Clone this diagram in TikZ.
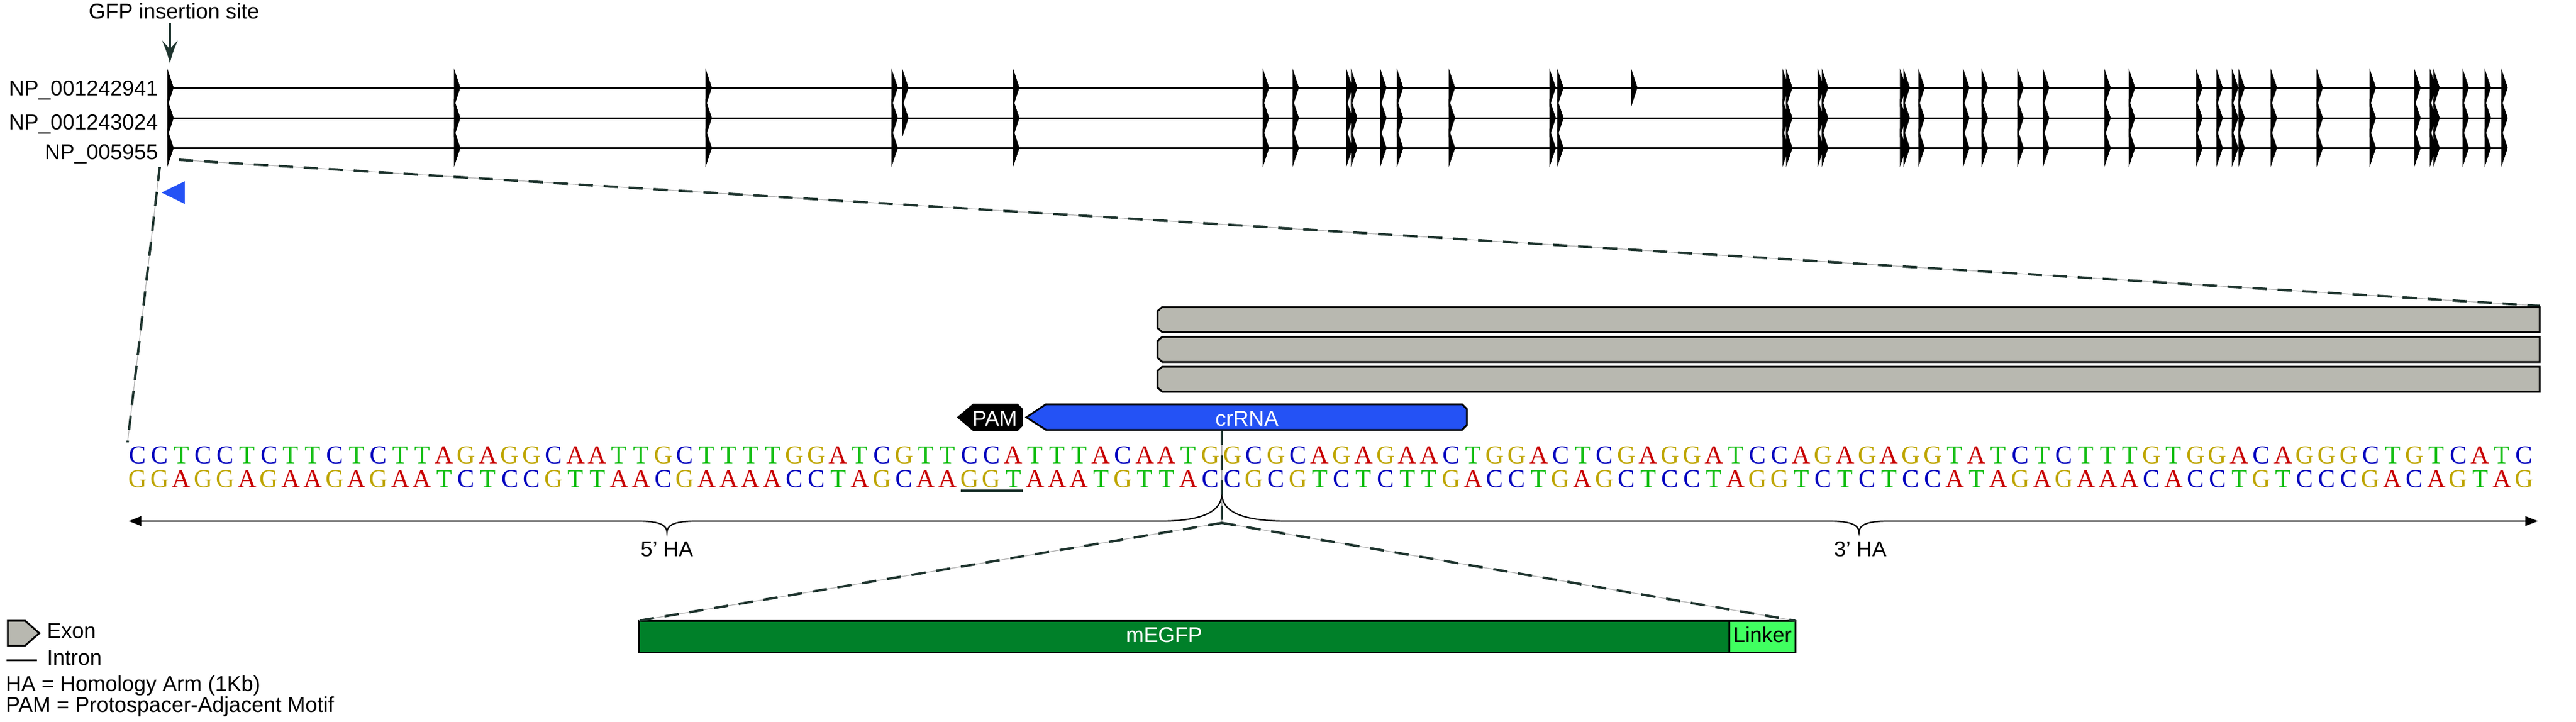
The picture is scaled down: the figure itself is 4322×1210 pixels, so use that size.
\documentclass[tikz,border=0pt]{standalone}
\usepackage{fontspec}
\setmainfont{Liberation Sans}
\newfontfamily\seqfont{Liberation Serif}
\usetikzlibrary{arrows.meta}
\definecolor{nucA}{RGB}{200,0,0}
\definecolor{nucC}{RGB}{0,0,190}
\definecolor{nucG}{RGB}{190,165,0}
\definecolor{nucT}{RGB}{20,190,20}
\definecolor{crblue}{RGB}{36,82,245}
\definecolor{exgray}{RGB}{184,184,176}
\definecolor{dashcol}{RGB}{30,52,46}
\definecolor{gfpgreen}{RGB}{0,128,41}
\definecolor{linkgreen}{RGB}{64,255,96}
\tikzset{
  lbl/.style={font=\fontsize{9}{10.8}\selectfont, inner sep=0pt},
  nuc/.style={font=\seqfont\fontsize{10.75}{12}\selectfont, inner sep=0pt, anchor=base},
  zoomline/.style={preaction={draw=black!30, line width=0.3pt, solid}, draw=dashcol, line width=1pt, dash pattern=on 6pt off 4.5pt},
  intron/.style={draw=black, line width=0.75pt},
  exonglyph/.style={fill=black, draw=black, line width=0.2pt},
  graybar/.style={fill=exgray, draw=black, line width=0.75pt},
  bracepath/.style={draw=black, line width=0.55pt},
  boxline/.style={draw=black, line width=0.75pt},
}
\newcommand\exonat[2]{%
  \fill[exonglyph] (#1,#2-30) -- (#1+10,#2) -- (#1,#2+30) -- cycle;}
\def\topseq{C,C,T,C,C,T,C,T,T,C,T,C,T,T,A,G,A,G,G,C,A,A,T,T,G,C,T,T,T,T,G,G,A,T,C,G,T,T,C,C,A,T,T,T,A,C,A,A,T,G,G,C,G,C,A,G,A,G,A,A,C,T,G,G,A,C,T,C,G,A,G,G,A,T,C,C,A,G,A,G,A,G,G,T,A,T,C,T,C,T,T,T,G,T,G,G,A,C,A,G,G,G,C,T,G,T,C,A,T,C}
\def\botseq{G,G,A,G,G,A,G,A,A,G,A,G,A,A,T,C,T,C,C,G,T,T,A,A,C,G,A,A,A,A,C,C,T,A,G,C,A,A,G,G,T,A,A,A,T,G,T,T,A,C,C,G,C,G,T,C,T,C,T,T,G,A,C,C,T,G,A,G,C,T,C,C,T,A,G,G,T,C,T,C,T,C,C,A,T,A,G,A,G,A,A,A,C,A,C,C,T,G,T,C,C,C,G,A,C,A,G,T,A,G}
\begin{document}
\begin{tikzpicture}[x=0.25pt,y=-0.25pt]
\useasboundingbox (0,0) rectangle (4322,1210);

% --- GFP insertion site arrow
\node[lbl, anchor=base] (gfp) at (292,32) {GFP insertion site};
\coordinate (ins) at (285,106);
\draw[dashcol, line width=0.8pt] (285,38) -- (285,86);
\fill[dashcol] (ins) .. controls (280,88) .. (272,68) -- (285,82) -- (298,68) .. controls (290,88) .. (ins) -- cycle;

% --- transcript tracks
\foreach \y/\ly/\nm [count=\k] in {147/160/NP\_001242941, 198/217/NP\_001243024, 248/267/NP\_005955}{
  \node[lbl, anchor=base east] (lab\k) at (266,\ly) {\nm};
  \draw[intron] (281,\y) -- (4207,\y);
}
\foreach \x in {281,762,1184,1496,1700,2119,2169,2259,2267,2316,2344,2431,2600,2613,2991,2997,3050,3057,3188,3194,3219,3294,3325,3385,3428,3531,3572,3685,3719,3745,3756,3810,3887,3976,4051,4077,4083,4132,4169,4197}{
  \foreach \y in {147,198,248}{\exonat{\x}{\y}}
}
\exonat{1514}{147}\exonat{1514}{198}
\exonat{2737}{147}

% --- zoom lines from first exon
\coordinate (exbot) at (268,280);
\coordinate (exright) at (300,268);
\coordinate (seqTL) at (214,742);
\coordinate (barTR) at (4261,513);
\draw[zoomline] (exbot) -- (seqTL);
\draw[zoomline] (exright) -- (barTR);

% --- blue marker
\fill[crblue] (271,323) -- (310,304) -- (310,342) -- cycle;

% --- gray exon bars
\foreach \t in {515,565,615}{
  \draw[graybar] (1950,\t) -- (4261,\t) -- (4261,\t+42) -- (1950,\t+42) -- (1942,\t+35) -- (1942,\t+7) -- cycle;
}

% --- PAM and crRNA
\draw[fill=black, line width=0.5pt] (1607,700) -- (1633,678) -- (1707,678) -- (1715,686) -- (1715,714) -- (1707,722) -- (1633,722) -- cycle;
\node[lbl, text=white, anchor=base] (pam) at (1669,714) {PAM};
\draw[fill=crblue, line width=0.75pt] (1722,700) -- (1755,678) -- (2453,678) -- (2461,686) -- (2461,713) -- (2453,721) -- (1755,721) -- cycle;
\node[lbl, text=white, anchor=base] (crrna) at (2092,714) {crRNA};

% --- sequence
\foreach \c [count=\i] in \topseq {
  \node[nuc, text=nuc\c] (t\i) at ({231+(\i-1)*36.73},777) {\c};
}
\foreach \c [count=\i] in \botseq {
  \node[nuc, text=nuc\c] (b\i) at ({231+(\i-1)*36.73},817) {\c};
}
\draw[dashcol, line width=1pt] (1612,823) -- (1716,823);

% --- cut site
\coordinate (cutTop) at (2050,722);
\coordinate (cut) at (2050,877);
\draw[zoomline] (cutTop) -- (cut);

% --- homology arm braces
\draw[bracepath, {Triangle[length=5.25pt,width=4pt]}-] (216,874) -- (1070,874)
  .. controls (1105,874) and (1119,880) .. (1119,893)
  .. controls (1119,880) and (1133,874) .. (1168,874) -- (1947,874)
  .. controls (2013,874) and (2048,860) .. (2050,830);
\draw[bracepath, -{Triangle[length=5.25pt,width=4pt]}] (2050,830)
  .. controls (2052,860) and (2087,874) .. (2160,874) -- (3069,874)
  .. controls (3104,874) and (3119,880) .. (3119,893)
  .. controls (3119,880) and (3133,874) .. (3168,874) -- (4258,874);
\node[lbl, anchor=base] (ha5) at (1119,933) {5’ HA};
\node[lbl, anchor=base] (ha3) at (3121,933) {3’ HA};

% --- mEGFP + linker
\draw[boxline, fill=gfpgreen] (1072,1041) rectangle (2901,1094);
\draw[boxline, fill=linkgreen] (2901,1041) rectangle (3012,1094);
\coordinate (egfpNW) at (1072,1041);
\coordinate (linkNE) at (3012,1041);
\node[lbl, text=white, anchor=base] (egfp) at (1953,1077) {mEGFP};
\node[lbl, anchor=base] (linker) at (2957,1077) {Linker};
\draw[zoomline] (cut) -- (egfpNW);
\draw[zoomline] (cut) -- (linkNE);

% --- legend
\draw[graybar] (13,1041) -- (42,1041) -- (66,1062) -- (42,1083) -- (13,1083) -- cycle;
\node[lbl, anchor=base west] (lexon) at (78,1070) {Exon};
\draw[intron] (11,1107) -- (62,1107);
\node[lbl, anchor=base west] (lintron) at (78,1115) {Intron};
\node[lbl, anchor=base west] (lha) at (9,1159) {HA = Homology Arm (1Kb)};
\node[lbl, anchor=base west] (lpam) at (9,1194) {PAM = Protospacer-Adjacent Motif};
\end{tikzpicture}
\end{document}
